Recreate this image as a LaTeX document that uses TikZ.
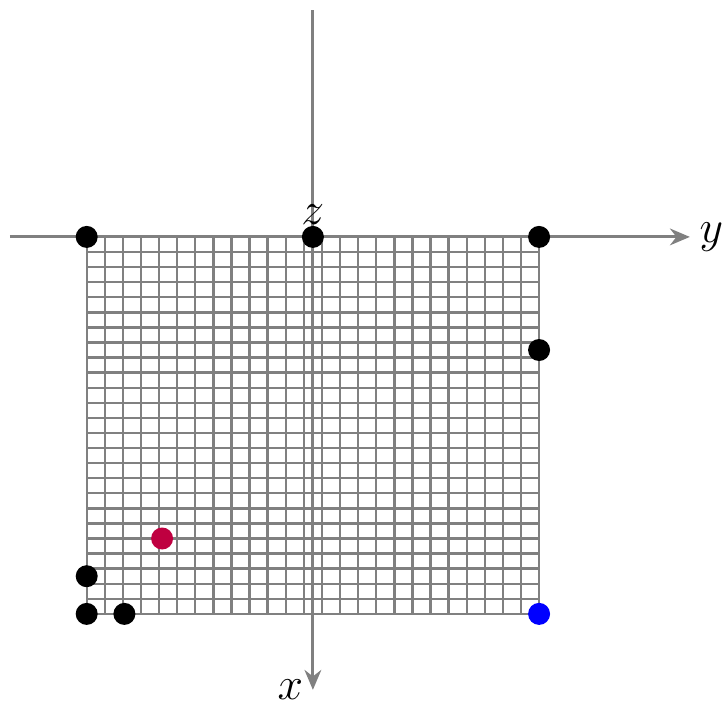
\documentclass[tikz,border=0pt]{standalone}
\usetikzlibrary{arrows.meta,positioning}
\tikzset{
  gridline/.style={draw=gray, line width=0.9pt},
  axis/.style={draw=gray, line width=1.15pt},
  axisarrow/.style={axis, -{Stealth[length=7.5pt,width=6.3pt]}},
  dot/.style={circle, fill=black, minimum size=8.3pt, inner sep=0pt},
  axislabel/.style={inner sep=0pt, font=\fontsize{18}{22}\selectfont}
}

\begin{document}
\begin{tikzpicture}[x=0.25cm, y=0.25cm]
\useasboundingbox (-16.6,-24.67) rectangle (21.97,12.57);
% grid
\begin{scope}[shift={(-12,-20)}]
\draw[gridline, xstep=0.96, ystep=0.8] (0,0) grid (24,20);
\end{scope}
\draw[gridline] (-12,-20) rectangle (12,0);
% axes
\coordinate (orig) at (0,0);
\coordinate (yneg) at (-16.07,0);
\coordinate (ypos) at (20,0);
\coordinate (ztop) at (0,12.04);
\coordinate (xpos) at (0,-24.03);
\draw[axisarrow] (yneg) -- (ypos);
\draw[axis] (orig) -- (ztop);
\draw[axisarrow] (orig) -- (xpos);
% points
\node[dot] (tl) at (-12,0) {};
\node[dot] (tc) at (0,0) {};
\node[dot] (tr) at (12,0) {};
\node[dot] (rm) at (12,-6) {};
\node[dot] (bl1) at (-12,-18) {};
\node[dot] (bl) at (-12,-20) {};
\node[dot] (bl2) at (-10,-20) {};
\node[dot, fill=purple] (red) at (-8,-16) {};
\node[dot, fill=blue] (br) at (12,-20) {};
% labels
\node[axislabel, right=3.5pt of ypos] (ylab) {$y$};
\node[axislabel, left=3.5pt of xpos] (xlab) {$x$};
\node[axislabel, above=0pt of tc] (zlab) {$z$};
\end{tikzpicture}
\end{document}
